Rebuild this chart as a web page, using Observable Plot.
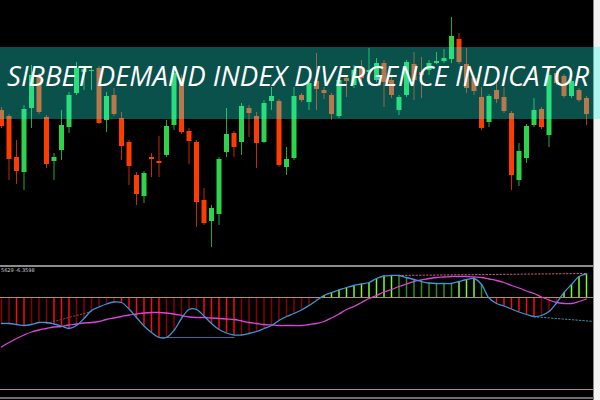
<!DOCTYPE html>
<html><head><meta charset="utf-8">
<script src="https://cdn.jsdelivr.net/npm/d3@7"></script>
<script src="https://cdn.jsdelivr.net/npm/@observablehq/plot@0.6"></script>
<style>
html,body{margin:0;padding:0;background:#000;}
#wrap{position:relative;width:600px;height:400px;background:#000;overflow:hidden;}
#wrap svg{position:absolute;left:0;}
#strip{position:absolute;left:593px;top:0;width:7px;height:400px;background:#f2f2f2;border-left:1px solid #8a8a8a;box-sizing:border-box;}
#sep{position:absolute;left:0;top:265px;width:594px;height:2px;background:#8c8c8c;}
#bot{position:absolute;left:0;top:397px;width:594px;height:2px;background:#6e6e6e;}
#banner{position:absolute;left:0;top:47px;width:600px;height:72px;background:rgba(30,250,232,0.32);}
#info{position:absolute;left:1px;top:267px;font:5px "DejaVu Sans",sans-serif;color:#cfcfcf;}
</style></head><body><div id="wrap"></div><script>
// ---- price candles (one per bar) ----
const open = [1.1890,1.1884,1.1843,1.1828,1.1892,1.1925,1.1883,1.1839,1.1850,1.1873,
1.1907,1.1928,1.1929,1.1932,1.1880,1.1905,1.1882,1.1858,1.1825,1.1804,
1.1843,1.1839,1.1845,1.1875,1.1922,1.1869,1.1858,1.1800,1.1779,1.1786,
1.1848,1.1867,1.1858,1.1892,1.1884,1.1858,1.1899,1.1899,1.1833,1.1842,
1.1905,1.1898,1.1919,1.1910,1.1905,1.1884,1.1922,1.1915,1.1932,1.1928,
1.1920,1.1937,1.1920,1.1890,1.1905,1.1936,1.1928,1.1930,1.1937,1.1939,
1.1941,1.1961,1.1936,1.1922,1.1903,1.1878,1.1910,1.1903,1.1887,1.1820,
1.1842,1.1875,1.1891,1.1865,1.1927,1.1924,1.1904,1.1910,1.1902];
const close = [1.1874,1.1841,1.1829,1.1891,1.1925,1.1888,1.1836,1.1843,1.1875,1.1905,
1.1932,1.1931,1.1930,1.1877,1.1904,1.1886,1.1854,1.1834,1.1806,1.1827,
1.1841,1.1837,1.1874,1.1927,1.1868,1.1859,1.1798,1.1777,1.1792,1.1841,
1.1866,1.1853,1.1894,1.1887,1.1857,1.1897,1.1904,1.1835,1.1841,1.1904,
1.1900,1.1917,1.1911,1.1907,1.1886,1.1920,1.1919,1.1930,1.1922,1.1930,
1.1937,1.1918,1.1905,1.1903,1.1938,1.1920,1.1925,1.1937,1.1939,1.1942,
1.1964,1.1938,1.1912,1.1909,1.1872,1.1904,1.1901,1.1889,1.1825,1.1849,
1.1874,1.1890,1.1873,1.1925,1.1917,1.1904,1.1919,1.1900,1.1886];
const high = [1.1893,1.1886,1.1860,1.1895,1.1935,1.1927,1.1885,1.1847,1.1890,1.1908,
1.1938,1.1932,1.1932,1.1934,1.1908,1.1912,1.1888,1.1860,1.1828,1.1829,
1.1847,1.1864,1.1880,1.1932,1.1925,1.1872,1.1860,1.1812,1.1795,1.1843,
1.1892,1.1869,1.1897,1.1895,1.1888,1.1900,1.1913,1.1901,1.1853,1.1913,
1.1907,1.1922,1.1947,1.1913,1.1907,1.1923,1.1925,1.1935,1.1940,1.1952,
1.1942,1.1940,1.1925,1.1905,1.1940,1.1948,1.1943,1.1940,1.1948,1.1951,
1.1983,1.1967,1.1952,1.1925,1.1913,1.1906,1.1922,1.1913,1.1889,1.1857,
1.1876,1.1902,1.1893,1.1927,1.1930,1.1926,1.1921,1.1912,1.1904];
const low = [1.1872,1.1820,1.1816,1.1810,1.1872,1.1886,1.1832,1.1820,1.1840,1.1867,
1.1905,1.1910,1.1910,1.1876,1.1868,1.1884,1.1840,1.1815,1.1795,1.1797,
1.1823,1.1823,1.1843,1.1870,1.1866,1.1836,1.1773,1.1775,1.1753,1.1775,
1.1843,1.1843,1.1845,1.1863,1.1832,1.1857,1.1890,1.1833,1.1825,1.1840,
1.1898,1.1890,1.1890,1.1901,1.1880,1.1882,1.1903,1.1912,1.1915,1.1915,
1.1918,1.1893,1.1902,1.1885,1.1903,1.1900,1.1902,1.1925,1.1936,1.1937,
1.1937,1.1936,1.1907,1.1905,1.1870,1.1873,1.1897,1.1887,1.1810,1.1814,
1.1837,1.1873,1.1871,1.1853,1.1915,1.1902,1.1902,1.1898,1.1875];

// ---- indicator ----
const sdiMain = [-5.2,-5.2,-5.4,-5.6,-5.4,-5.0,-5.0,-5.3,-5.7,-6.2,
-5.6,-4.2,-2.6,-1.9,-1.3,-0.9,-1.0,-2.3,-4.0,-5.7,
-7.0,-8.0,-8.0,-6.6,-4.2,-2.4,-2.4,-3.7,-5.2,-6.4,
-7.1,-7.5,-7.5,-7.2,-6.8,-6.2,-5.6,-4.6,-3.8,-3.2,
-2.5,-1.6,-0.6,0.4,1.0,1.5,2.0,2.4,2.7,3.0,
3.8,4.3,4.4,4.4,4.0,3.6,3.2,2.9,2.8,2.8,
2.8,3.2,3.6,3.8,2.6,-0.1,-1.2,-1.7,-2.3,-2.9,
-3.4,-3.8,-3.6,-2.8,-1.1,1.0,2.6,4.2,4.7];
const sdiSignal = [-9.9,-9.0,-8.2,-7.5,-6.9,-6.5,-6.2,-5.9,-5.8,-5.5,
-5.3,-5.1,-5.0,-4.8,-4.4,-4.1,-3.8,-3.5,-3.3,-3.1,
-3.0,-3.0,-3.1,-3.3,-3.6,-3.9,-4.0,-4.0,-4.1,-4.2,
-4.3,-4.4,-4.7,-5.0,-5.2,-5.4,-5.5,-5.6,-5.6,-5.6,
-5.6,-5.4,-5.2,-4.8,-4.1,-3.3,-2.4,-1.8,-1.0,-0.2,
0.4,1.1,1.6,2.2,2.7,3.2,3.5,3.8,4.0,4.1,
4.2,4.2,4.2,4.1,4.0,3.7,3.4,3.0,2.4,1.9,
1.3,0.8,0.1,-0.5,-1.0,-1.2,-1.2,-0.8,-0.3];
const levels = [0, -18.4];
const divUpper = [{i:52, v:4.4}, {i:78, v:4.8}];
const divLowRight = [{i:71, v:-3.85}, {i:79.5, v:-4.85}];
const divLowMid = [{i:21, v:-8.0}, {i:31, v:-8.0}];
const divLeft = [{i:6, v:-5.2}, {i:12, v:-2.8}];
const title = "SIBBET DEMAND INDEX DIVERGENCE INDICATOR";
const infoText = "5629 -6.3598";

const UP = "#2fd34a", DOWN = "#ff3c00", UPW = "#23a83a", DOWNW = "#c42c00";
const candles = open.map((o, i) => ({i, o, c: close[i], h: high[i], l: low[i],
  body: close[i] >= o ? UP : DOWN, wick: close[i] >= o ? UPW : DOWNW}));
const xDom = [-1/7.5, 599/7.5];

const wrap = document.getElementById("wrap");

const pricePlot = Plot.plot({
  width: 600, height: 265, margin: 0,
  x: {domain: xDom, axis: null},
  y: {domain: [1.1735, 1.2000], axis: null},
  color: {type: "identity"},
  style: "background:#000;",
  marks: [
    Plot.ruleX(candles, {x: "i", y1: "l", y2: "h", stroke: "wick", strokeWidth: 1}),
    Plot.ruleX(candles, {x: "i", y1: "o", y2: "c", stroke: "body", strokeWidth: 5})
  ]
});
pricePlot.style.top = "0px";
wrap.appendChild(pricePlot);

const hist = sdiMain.map((v, i) => {
  const p = i > 0 ? sdiMain[i-1] : v;
  const c = v < 0 ? (v < p ? "#ff0a0a" : "#8a0000") : (v > p ? "#77ff2a" : "#2f8f1c");
  return {i, v, c};
});
const blue = sdiMain.map((v, i) => ({i, v}));
const mag = sdiSignal.map((v, i) => ({i, v}));

const indPlot = Plot.plot({
  width: 600, height: 134, margin: 0,
  x: {domain: xDom, axis: null},
  y: {domain: [-20.6, 6.2], axis: null},
  color: {type: "identity"},
  style: "background:transparent;",
  marks: [
    Plot.ruleX(hist, {x: "i", y1: 0, y2: "v", stroke: "c", strokeWidth: 1.5}),
    Plot.ruleY(levels, {stroke: "#b39458", strokeWidth: 1}),
    Plot.line(divLeft, {x: "i", y: "v", stroke: "#9a3a5a", strokeWidth: 1, strokeDasharray: "1.5,2"}),
    Plot.line(divUpper, {x: "i", y: "v", stroke: "#c8607a", strokeWidth: 1, strokeDasharray: "1.5,2"}),
    Plot.line(divLowMid, {x: "i", y: "v", stroke: "#2f6f98", strokeWidth: 1.2}),
    Plot.line(divLowRight, {x: "i", y: "v", stroke: "#3a93b5", strokeWidth: 1, strokeDasharray: "1.5,2"}),
    Plot.line(mag, {x: "i", y: "v", stroke: "#d845d8", strokeWidth: 1.3, curve: "catmull-rom"}),
    Plot.line(blue, {x: "i", y: "v", stroke: "#3f95dc", strokeWidth: 1.3, curve: "catmull-rom"})
  ]
});
indPlot.style.top = "266px";
wrap.appendChild(indPlot);

for (const id of ["strip", "sep", "bot", "banner"]) {
  const d = document.createElement("div"); d.id = id; wrap.appendChild(d);
}
const info = document.createElement("div"); info.id = "info"; info.textContent = infoText; wrap.appendChild(info);

const t = d3.create("svg").attr("width", 600).attr("height", 120).style("top", "0px");
t.append("text").attr("x", 7).attr("y", 86)
  .attr("textLength", 582).attr("lengthAdjust", "spacingAndGlyphs")
  .attr("fill", "#ffffff")
  .style("font", "italic 28px 'Open Sans', 'Noto Sans', sans-serif")
  .text(title);
wrap.appendChild(t.node());
</script></body></html>
